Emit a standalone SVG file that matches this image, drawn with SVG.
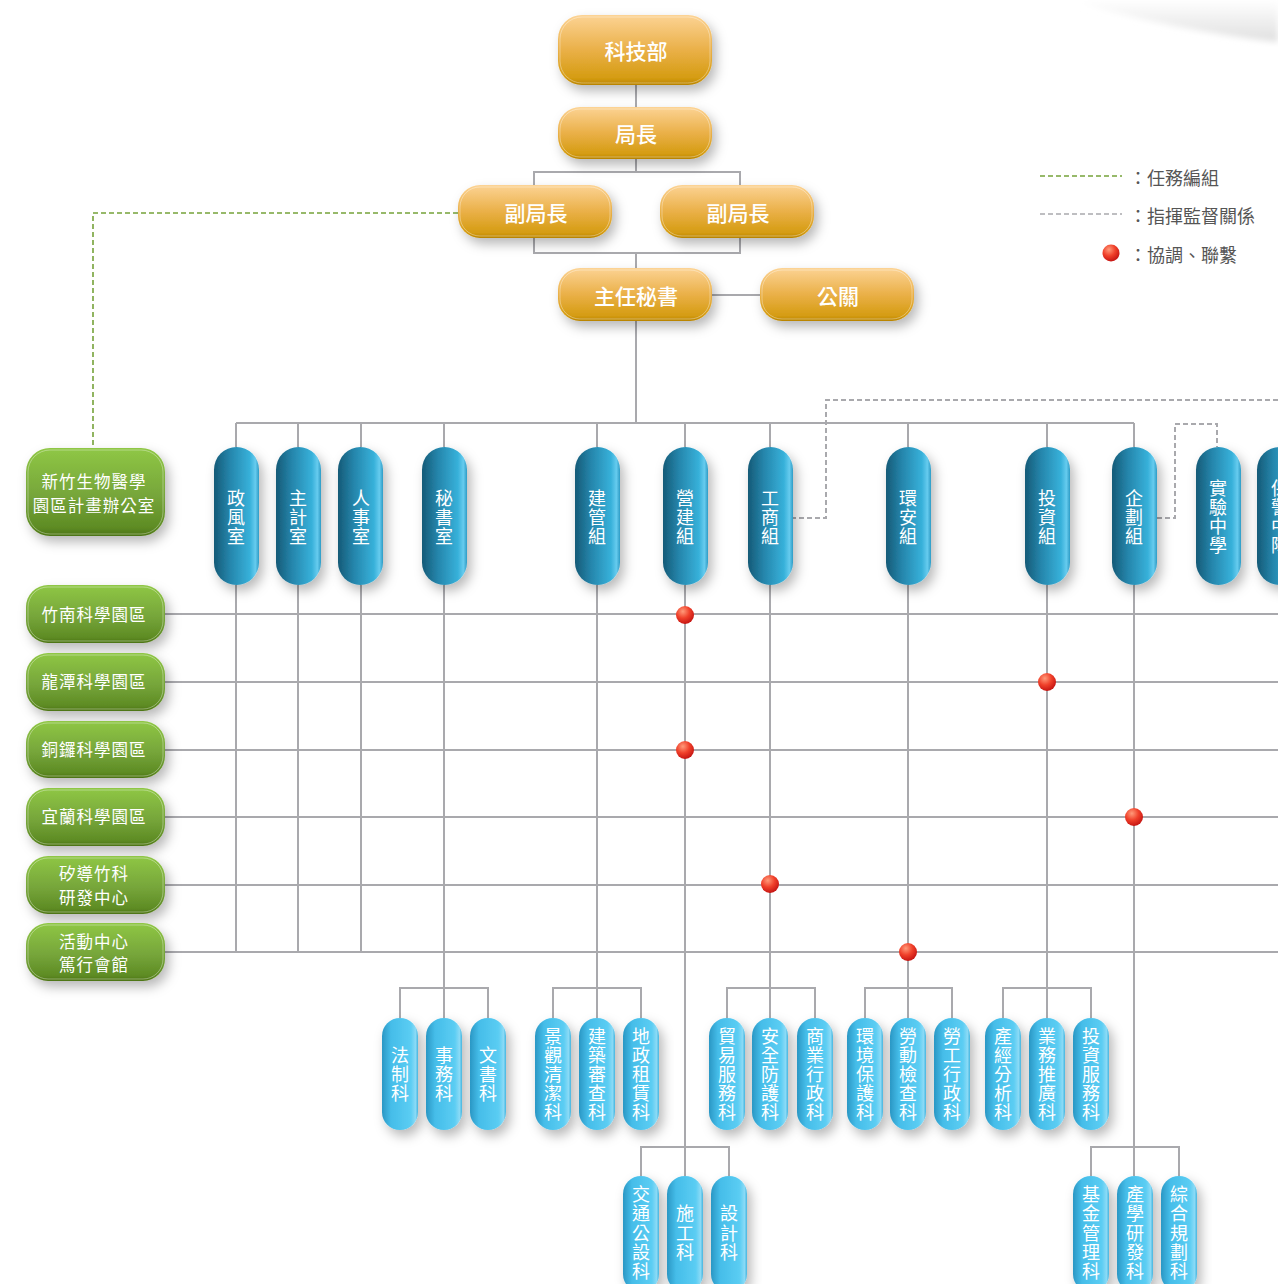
<svg xmlns="http://www.w3.org/2000/svg" width="1278" height="1284" viewBox="0 0 1278 1284">
<defs>
<linearGradient id="gGold" x1="0" y1="0" x2="0" y2="1">
<stop offset="0" stop-color="#fcd394"/><stop offset="0.5" stop-color="#eab048"/><stop offset="0.9" stop-color="#d59c12"/><stop offset="1" stop-color="#b88300"/>
</linearGradient>
<linearGradient id="gGreen" x1="0" y1="0" x2="0" y2="1">
<stop offset="0" stop-color="#8fc745"/><stop offset="0.55" stop-color="#76a53a"/><stop offset="0.9" stop-color="#5e8c24"/><stop offset="1" stop-color="#4d7414"/>
</linearGradient>
<linearGradient id="gBlue" x1="0" y1="0" x2="1" y2="0">
<stop offset="0" stop-color="#155a77"/><stop offset="0.35" stop-color="#2585ab"/><stop offset="0.8" stop-color="#37b1da"/><stop offset="0.92" stop-color="#66cbee"/><stop offset="1" stop-color="#2e9cc6"/>
</linearGradient>
<linearGradient id="gCyan" x1="0" y1="0" x2="1" y2="0">
<stop offset="0" stop-color="#2b97c4"/><stop offset="0.25" stop-color="#45bde9"/><stop offset="0.8" stop-color="#5bcdf3"/><stop offset="0.93" stop-color="#8adaf6"/><stop offset="1" stop-color="#45b6e0"/>
</linearGradient>
<radialGradient id="gRed" cx="0.38" cy="0.3" r="0.75">
<stop offset="0" stop-color="#ff9a7a"/><stop offset="0.5" stop-color="#f0402a"/><stop offset="1" stop-color="#c01010"/>
</radialGradient>
<linearGradient id="gSwoosh" x1="0" y1="0" x2="0" y2="1">
<stop offset="0" stop-color="#ffffff"/><stop offset="0.6" stop-color="#ececec"/><stop offset="1" stop-color="#dedede"/>
</linearGradient>
<filter id="sh" x="-40%" y="-40%" width="180%" height="180%">
<feDropShadow dx="4" dy="6" stdDeviation="6" flood-color="#000" flood-opacity="0.28"/>
</filter>
<filter id="blur"><feGaussianBlur stdDeviation="3"/></filter>
</defs>
<style>
.ln{stroke:#a9a9ad;stroke-width:2;fill:none}
.gd{stroke:#76a23a;stroke-width:1.6;stroke-dasharray:5 3;fill:none}
.hd{stroke:#a9a9ad;stroke-width:2;stroke-dasharray:5 3;fill:none}
.gold{fill:url(#gGold);filter:url(#sh)}
.green{fill:url(#gGreen);filter:url(#sh)}
.blue{fill:url(#gBlue);filter:url(#sh)}
.cyan{fill:url(#gCyan);filter:url(#sh)}
.hl{fill:none;stroke:#fff;stroke-opacity:0.35;stroke-width:1}
.tg{font-family:"Noto Sans CJK TC","Noto Sans CJK SC",sans-serif;font-size:21px;font-weight:500;fill:#fff;text-anchor:middle;dominant-baseline:central}
.tn{font-family:"Noto Sans CJK TC","Noto Sans CJK SC",sans-serif;font-size:16.5px;fill:#fff;text-anchor:middle;dominant-baseline:central;letter-spacing:1px}
.tv{font-family:"Noto Sans CJK TC","Noto Sans CJK SC",sans-serif;font-size:18px;fill:#fff;text-anchor:middle;dominant-baseline:central}
.lg{font-family:"Noto Sans CJK TC","Noto Sans CJK SC",sans-serif;font-size:18px;fill:#555;dominant-baseline:central}
.dot{fill:url(#gRed)}
</style>
<rect width="1278" height="1284" fill="#fff"/>
<path d="M1070 0 Q1170 30 1278 42 V0 Z" fill="url(#gSwoosh)" filter="url(#blur)"/>

<g id="connectors">
<path class="ln" d="M636 85V107M636 159V172M534 185V172H740V185M534 238V253H740V238M636 253V268M712 295H760M636 321V423M236 423H1134"/>
<path class="ln" d="M236 423V447M298 423V447M361 423V447M444 423V447M597 423V447M685 423V447M770 423V447M908 423V447M1047 423V447M1134 423V447"/>
<path class="ln" d="M165 614H1278M165 682H1278M165 750H1278M165 817H1278M165 885H1278M165 952H1278"/>
<path class="ln" d="M236 585V952M298 585V952M361 585V952"/>
<path class="ln" d="M444 585V1018M400 1018V988H488V1018"/>
<path class="ln" d="M597 585V1018M553 1018V988H641V1018"/>
<path class="ln" d="M770 585V1018M727 1018V988H815V1018"/>
<path class="ln" d="M908 585V1018M865 1018V988H952V1018"/>
<path class="ln" d="M1047 585V1018M1003 1018V988H1091V1018"/>
<path class="ln" d="M685 585V1176M641 1176V1147H729V1176"/>
<path class="ln" d="M1134 585V1176M1091 1176V1147H1179V1176"/>
<path class="gd" d="M458 213H93V448"/>
<path class="hd" d="M1278 400H826V518H793M1157 518H1175V424H1217V447"/>
<circle class="dot" cx="685" cy="615" r="9"/>
<circle class="dot" cx="1047" cy="682" r="9"/>
<circle class="dot" cx="685" cy="750" r="9"/>
<circle class="dot" cx="1134" cy="817" r="9"/>
<circle class="dot" cx="770" cy="884" r="9"/>
<circle class="dot" cx="908" cy="952" r="9"/>
</g>

<g id="legend">
<path class="gd" d="M1040 176H1122"/>
<path class="hd" d="M1040 214H1122" style="stroke-width:1.6"/>
<circle class="dot" cx="1111" cy="253" r="8.5"/>
<text class="lg" x="1129" y="177">：任務編組</text>
<text class="lg" x="1129" y="215">：指揮監督關係</text>
<text class="lg" x="1129" y="254">：協調、聯繫</text>
</g>

<g id="n-kejibu"><rect class="gold" x="558" y="15" width="154" height="70" rx="24"/><rect class="hl" x="560" y="17" width="150" height="66" rx="22"/><text class="tg" x="636" y="50">科技部</text></g>
<g id="n-juzhang"><rect class="gold" x="558" y="107" width="154" height="52" rx="22"/><rect class="hl" x="560" y="109" width="150" height="48" rx="20"/><text class="tg" x="636" y="133">局長</text></g>
<g id="n-fu1"><rect class="gold" x="458" y="185" width="154" height="53" rx="22"/><rect class="hl" x="460" y="187" width="150" height="49" rx="20"/><text class="tg" x="536" y="212">副局長</text></g>
<g id="n-fu2"><rect class="gold" x="660" y="185" width="154" height="53" rx="22"/><rect class="hl" x="662" y="187" width="150" height="49" rx="20"/><text class="tg" x="738" y="212">副局長</text></g>
<g id="n-mishu"><rect class="gold" x="558" y="268" width="154" height="53" rx="22"/><rect class="hl" x="560" y="270" width="150" height="49" rx="20"/><text class="tg" x="636" y="295">主任秘書</text></g>
<g id="n-gongguan"><rect class="gold" x="760" y="268" width="154" height="53" rx="22"/><rect class="hl" x="762" y="270" width="150" height="49" rx="20"/><text class="tg" x="838" y="295">公關</text></g>

<g id="g-bio"><rect class="green" x="26" y="448" width="139" height="88" rx="24"/><rect class="hl" x="28" y="450" width="135" height="84" rx="22"/><text class="tn" x="94" y="481">新竹生物醫學</text><text class="tn" x="94" y="505">園區計畫辦公室</text></g>
<g id="g-zhunan"><rect class="green" x="26" y="585" width="139" height="58" rx="22"/><rect class="hl" x="28" y="587" width="135" height="54" rx="20"/><text class="tn" x="94" y="614">竹南科學園區</text></g>
<g id="g-longtan"><rect class="green" x="26" y="653" width="139" height="58" rx="22"/><rect class="hl" x="28" y="655" width="135" height="54" rx="20"/><text class="tn" x="94" y="681">龍潭科學園區</text></g>
<g id="g-tongluo"><rect class="green" x="26" y="721" width="139" height="57" rx="22"/><rect class="hl" x="28" y="723" width="135" height="53" rx="20"/><text class="tn" x="94" y="749">銅鑼科學園區</text></g>
<g id="g-yilan"><rect class="green" x="26" y="788" width="139" height="58" rx="22"/><rect class="hl" x="28" y="790" width="135" height="54" rx="20"/><text class="tn" x="94" y="816">宜蘭科學園區</text></g>
<g id="g-xidao"><rect class="green" x="26" y="856" width="139" height="58" rx="22"/><rect class="hl" x="28" y="858" width="135" height="54" rx="20"/><text class="tn" x="94" y="873">矽導竹科</text><text class="tn" x="94" y="897">研發中心</text></g>
<g id="g-huodong"><rect class="green" x="26" y="923" width="139" height="58" rx="22"/><rect class="hl" x="28" y="925" width="135" height="54" rx="20"/><text class="tn" x="94" y="941">活動中心</text><text class="tn" x="94" y="964">篤行會館</text></g>

<g id="b-zhengfeng"><rect class="blue" x="214" y="447" width="45" height="138" rx="22.5"/><text class="tv"><tspan x="236" y="497">政</tspan><tspan x="236" y="516">風</tspan><tspan x="236" y="535">室</tspan></text></g>
<g id="b-zhuji"><rect class="blue" x="276" y="447" width="45" height="138" rx="22.5"/><text class="tv"><tspan x="298" y="497">主</tspan><tspan x="298" y="516">計</tspan><tspan x="298" y="535">室</tspan></text></g>
<g id="b-renshi"><rect class="blue" x="338" y="447" width="45" height="138" rx="22.5"/><text class="tv"><tspan x="361" y="497">人</tspan><tspan x="361" y="516">事</tspan><tspan x="361" y="535">室</tspan></text></g>
<g id="b-mishu"><rect class="blue" x="422" y="447" width="45" height="138" rx="22.5"/><text class="tv"><tspan x="444" y="497">秘</tspan><tspan x="444" y="516">書</tspan><tspan x="444" y="535">室</tspan></text></g>
<g id="b-jianguan"><rect class="blue" x="575" y="447" width="45" height="138" rx="22.5"/><text class="tv"><tspan x="597" y="497">建</tspan><tspan x="597" y="516">管</tspan><tspan x="597" y="535">組</tspan></text></g>
<g id="b-yingjian"><rect class="blue" x="663" y="447" width="45" height="138" rx="22.5"/><text class="tv"><tspan x="685" y="497">營</tspan><tspan x="685" y="516">建</tspan><tspan x="685" y="535">組</tspan></text></g>
<g id="b-gongshang"><rect class="blue" x="748" y="447" width="45" height="138" rx="22.5"/><text class="tv"><tspan x="770" y="497">工</tspan><tspan x="770" y="516">商</tspan><tspan x="770" y="535">組</tspan></text></g>
<g id="b-huanan"><rect class="blue" x="886" y="447" width="45" height="138" rx="22.5"/><text class="tv"><tspan x="908" y="497">環</tspan><tspan x="908" y="516">安</tspan><tspan x="908" y="535">組</tspan></text></g>
<g id="b-touzi"><rect class="blue" x="1025" y="447" width="45" height="138" rx="22.5"/><text class="tv"><tspan x="1047" y="497">投</tspan><tspan x="1047" y="516">資</tspan><tspan x="1047" y="535">組</tspan></text></g>
<g id="b-qihua"><rect class="blue" x="1112" y="447" width="45" height="138" rx="22.5"/><text class="tv"><tspan x="1134" y="497">企</tspan><tspan x="1134" y="516">劃</tspan><tspan x="1134" y="535">組</tspan></text></g>
<g id="b-shiyan"><rect class="blue" x="1196" y="447" width="45" height="138" rx="22.5"/><text class="tv"><tspan x="1218" y="487">實</tspan><tspan x="1218" y="506">驗</tspan><tspan x="1218" y="525">中</tspan><tspan x="1218" y="544">學</tspan></text></g>
<g id="b-baojing"><rect class="blue" x="1257" y="447" width="45" height="138" rx="22.5"/><text class="tv"><tspan x="1280" y="487">保</tspan><tspan x="1280" y="506">警</tspan><tspan x="1280" y="525">中</tspan><tspan x="1280" y="544">隊</tspan></text></g>

<g id="c-fazhi"><rect class="cyan" x="382" y="1018" width="36" height="112" rx="18"/><text class="tv"><tspan x="400" y="1054">法</tspan><tspan x="400" y="1073">制</tspan><tspan x="400" y="1092">科</tspan></text></g>
<g id="c-shiwu"><rect class="cyan" x="426" y="1018" width="36" height="112" rx="18"/><text class="tv"><tspan x="444" y="1054">事</tspan><tspan x="444" y="1073">務</tspan><tspan x="444" y="1092">科</tspan></text></g>
<g id="c-wenshu"><rect class="cyan" x="470" y="1018" width="36" height="112" rx="18"/><text class="tv"><tspan x="488" y="1054">文</tspan><tspan x="488" y="1073">書</tspan><tspan x="488" y="1092">科</tspan></text></g>
<g id="c-jingguan"><rect class="cyan" x="535" y="1018" width="36" height="112" rx="18"/><text class="tv"><tspan x="553" y="1035">景</tspan><tspan x="553" y="1054">觀</tspan><tspan x="553" y="1073">清</tspan><tspan x="553" y="1092">潔</tspan><tspan x="553" y="1111">科</tspan></text></g>
<g id="c-jianzhu"><rect class="cyan" x="579" y="1018" width="36" height="112" rx="18"/><text class="tv"><tspan x="597" y="1035">建</tspan><tspan x="597" y="1054">築</tspan><tspan x="597" y="1073">審</tspan><tspan x="597" y="1092">查</tspan><tspan x="597" y="1111">科</tspan></text></g>
<g id="c-dizheng"><rect class="cyan" x="623" y="1018" width="36" height="112" rx="18"/><text class="tv"><tspan x="641" y="1035">地</tspan><tspan x="641" y="1054">政</tspan><tspan x="641" y="1073">租</tspan><tspan x="641" y="1092">賃</tspan><tspan x="641" y="1111">科</tspan></text></g>
<g id="c-maoyi"><rect class="cyan" x="709" y="1018" width="36" height="112" rx="18"/><text class="tv"><tspan x="727" y="1035">貿</tspan><tspan x="727" y="1054">易</tspan><tspan x="727" y="1073">服</tspan><tspan x="727" y="1092">務</tspan><tspan x="727" y="1111">科</tspan></text></g>
<g id="c-anquan"><rect class="cyan" x="752" y="1018" width="36" height="112" rx="18"/><text class="tv"><tspan x="770" y="1035">安</tspan><tspan x="770" y="1054">全</tspan><tspan x="770" y="1073">防</tspan><tspan x="770" y="1092">護</tspan><tspan x="770" y="1111">科</tspan></text></g>
<g id="c-shangye"><rect class="cyan" x="797" y="1018" width="36" height="112" rx="18"/><text class="tv"><tspan x="815" y="1035">商</tspan><tspan x="815" y="1054">業</tspan><tspan x="815" y="1073">行</tspan><tspan x="815" y="1092">政</tspan><tspan x="815" y="1111">科</tspan></text></g>
<g id="c-huanjing"><rect class="cyan" x="847" y="1018" width="36" height="112" rx="18"/><text class="tv"><tspan x="865" y="1035">環</tspan><tspan x="865" y="1054">境</tspan><tspan x="865" y="1073">保</tspan><tspan x="865" y="1092">護</tspan><tspan x="865" y="1111">科</tspan></text></g>
<g id="c-laodong"><rect class="cyan" x="890" y="1018" width="36" height="112" rx="18"/><text class="tv"><tspan x="908" y="1035">勞</tspan><tspan x="908" y="1054">動</tspan><tspan x="908" y="1073">檢</tspan><tspan x="908" y="1092">查</tspan><tspan x="908" y="1111">科</tspan></text></g>
<g id="c-laogong"><rect class="cyan" x="934" y="1018" width="36" height="112" rx="18"/><text class="tv"><tspan x="952" y="1035">勞</tspan><tspan x="952" y="1054">工</tspan><tspan x="952" y="1073">行</tspan><tspan x="952" y="1092">政</tspan><tspan x="952" y="1111">科</tspan></text></g>
<g id="c-chanjing"><rect class="cyan" x="985" y="1018" width="36" height="112" rx="18"/><text class="tv"><tspan x="1003" y="1035">產</tspan><tspan x="1003" y="1054">經</tspan><tspan x="1003" y="1073">分</tspan><tspan x="1003" y="1092">析</tspan><tspan x="1003" y="1111">科</tspan></text></g>
<g id="c-yewu"><rect class="cyan" x="1029" y="1018" width="36" height="112" rx="18"/><text class="tv"><tspan x="1047" y="1035">業</tspan><tspan x="1047" y="1054">務</tspan><tspan x="1047" y="1073">推</tspan><tspan x="1047" y="1092">廣</tspan><tspan x="1047" y="1111">科</tspan></text></g>
<g id="c-touzifuwu"><rect class="cyan" x="1073" y="1018" width="36" height="112" rx="18"/><text class="tv"><tspan x="1091" y="1035">投</tspan><tspan x="1091" y="1054">資</tspan><tspan x="1091" y="1073">服</tspan><tspan x="1091" y="1092">務</tspan><tspan x="1091" y="1111">科</tspan></text></g>

<g id="c-jiaotong"><rect class="cyan" x="623" y="1176" width="36" height="116" rx="18"/><text class="tv"><tspan x="641" y="1193">交</tspan><tspan x="641" y="1212">通</tspan><tspan x="641" y="1232">公</tspan><tspan x="641" y="1251">設</tspan><tspan x="641" y="1270">科</tspan></text></g>
<g id="c-shigong"><rect class="cyan" x="667" y="1176" width="36" height="116" rx="18"/><text class="tv"><tspan x="685" y="1212">施</tspan><tspan x="685" y="1232">工</tspan><tspan x="685" y="1251">科</tspan></text></g>
<g id="c-sheji"><rect class="cyan" x="711" y="1176" width="36" height="116" rx="18"/><text class="tv"><tspan x="729" y="1212">設</tspan><tspan x="729" y="1232">計</tspan><tspan x="729" y="1251">科</tspan></text></g>
<g id="c-jijin"><rect class="cyan" x="1073" y="1176" width="36" height="116" rx="18"/><text class="tv"><tspan x="1091" y="1193">基</tspan><tspan x="1091" y="1212">金</tspan><tspan x="1091" y="1232">管</tspan><tspan x="1091" y="1251">理</tspan><tspan x="1091" y="1270">科</tspan></text></g>
<g id="c-chanxue"><rect class="cyan" x="1117" y="1176" width="36" height="116" rx="18"/><text class="tv"><tspan x="1135" y="1193">產</tspan><tspan x="1135" y="1212">學</tspan><tspan x="1135" y="1232">研</tspan><tspan x="1135" y="1251">發</tspan><tspan x="1135" y="1270">科</tspan></text></g>
<g id="c-zonghe"><rect class="cyan" x="1161" y="1176" width="36" height="116" rx="18"/><text class="tv"><tspan x="1179" y="1193">綜</tspan><tspan x="1179" y="1212">合</tspan><tspan x="1179" y="1232">規</tspan><tspan x="1179" y="1251">劃</tspan><tspan x="1179" y="1270">科</tspan></text></g>
</svg>
